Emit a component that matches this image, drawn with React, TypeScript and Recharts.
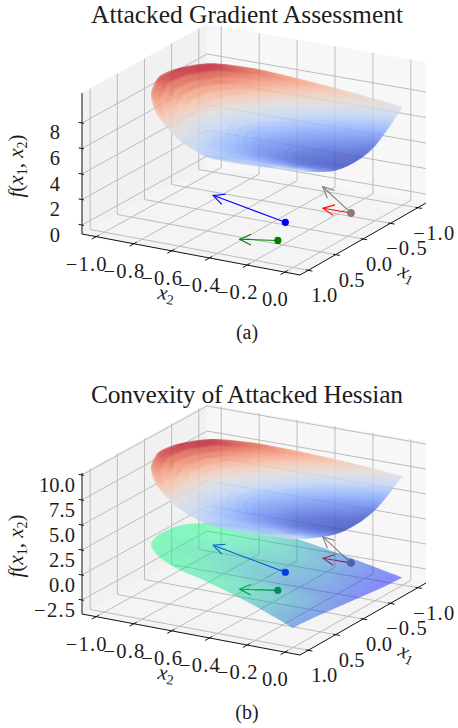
import React from 'react';
import { ScatterChart, Scatter, XAxis, YAxis } from 'recharts';

const x1Ticks = [-1, -0.5, 0, 0.5, 1];
const x2Ticks = [-1, -0.8, -0.6, -0.4, -0.2, 0];
const zTicksA = [0, 2, 4, 6, 8];
const zTicksB = [-2.5, 0, 2.5, 5, 7.5, 10];

// surface samples on the half disk, rows by radius, columns by angle
const radii = [0, 0.25, 0.5, 0.75, 1];
const anglesDeg = [0, 15, 30, 45, 60, 75, 90, 105, 120, 135, 150, 165, 180];

const upperZ = [
  [4.8, 4.8, 4.8, 4.8, 4.8, 4.8, 4.8, 4.8, 4.8, 4.8, 4.8, 4.8, 4.8],
  [5.02, 5.05, 5.0, 4.95, 4.98, 5.02, 5.06, 5.08, 5.08, 5.06, 5.01, 4.97, 4.82],
  [5.55, 5.5, 5.5, 5.45, 5.53, 5.71, 5.88, 5.93, 5.94, 5.82, 5.65, 5.49, 5.16],
  [6.19, 6.05, 5.95, 6.05, 6.43, 6.85, 7.2, 7.3, 7.36, 7.1, 6.72, 6.35, 5.96],
  [6.9, 6.53, 6.27, 6.87, 7.72, 8.45, 9.1, 9.3, 9.36, 8.9, 8.2, 7.55, 7.0],
];

const lowerZ = [
  [-2.55, -2.55, -2.55, -2.55, -2.55, -2.55, -2.55, -2.55, -2.55, -2.55, -2.55, -2.55, -2.55],
  [-2.37, -1.87, -1.63, -1.59, -1.56, -1.56, -1.59, -1.54, -1.58, -1.71, -1.97, -2.37, -2.73],
  [-2.19, -1.19, -0.7, -0.63, -0.57, -0.57, -0.63, -0.53, -0.61, -0.86, -1.4, -2.2, -2.91],
  [-2.04, -0.63, 0.07, 0.17, 0.26, 0.3, 0.3, 0.45, 0.35, -0.05, -0.92, -2.06, -3.06],
  [-1.95, -0.29, 0.53, 0.65, 0.78, 0.8, 0.85, 1.1, 0.98, 0.4, -0.63, -1.97, -3.15],
];

// arrows in the plane z = 0: start and tip as [x1, x2]
const arrowNames = ['red', 'gray', 'blue', 'green'];
const arrowColors = ['#ff0000', '#808080', '#0000ff', '#008000'];
const arrowStarts = [[-0.364, -0.089], [-0.364, -0.089], [0.154, -0.286], [0.63, -0.188]];
const arrowTips = [[-0.357, -0.235], [-0.887, -0.389], [-0.19, -0.767], [0.775, -0.348]];

const X1_MIN = -1.15;
const X1_MAX = 1.15;
const X2_MIN = -1.075;
const X2_MAX = 0.08;
const BOX_H = 141;
const W = 458;
const H = 348;
const FONT = '"Liberation Serif", serif';
const INK = '#1c1c1c';

const coolwarm = [[59, 76, 192], [98, 130, 234], [141, 176, 254], [192, 212, 245], [221, 220, 220], [245, 196, 173], [244, 152, 122], [222, 96, 77], [180, 4, 38]];
const winter = [[0, 0, 255], [0, 255, 128]];

function cmap(stops: number[][], t: number) {
  const v = Math.max(0, Math.min(0.9999, t)) * (stops.length - 1);
  const i = Math.floor(v);
  const c = stops[i].map((s, k) => Math.round(s + (stops[i + 1][k] - s) * (v - i)));
  return `rgb(${c[0]},${c[1]},${c[2]})`;
}

function makeProject(zMin: number, zMax: number) {
  return (x1: number, x2: number, z: number) => {
    const a = (X1_MAX - x1) / (X1_MAX - X1_MIN);
    const b = (x2 - X2_MIN) / (X2_MAX - X2_MIN);
    const nx = 82 + 218 * b;
    const ny = 234 + 41 * b;
    const fx = 207 + 219 * b;
    const fy = 165 + 38 * b;
    return {
      px: nx + (fx - nx) * a,
      py: ny + (fy - ny) * a - ((z - zMin) / (zMax - zMin)) * BOX_H,
    };
  };
}

const noDot = () => <g />;
const fmt = (v: number) => v.toFixed(1).replace('-', '\u2212');

// width of a number label in the reference's wide math digits
const labelWidth = (s: string) => {
  let w = 0;
  for (const ch of s) w += ch === '\u2212' ? 15 : ch === '.' ? 5.5 : 10.2;
  return w;
};

const polygonLine = (fill: string) => ({ points }: any) => (
  <polygon points={points.map((p: any) => `${p.x},${p.y}`).join(' ')} fill={fill} stroke="none" />
);

const segmentsLine = (stroke: string, width: number) => ({ points }: any) => {
  const out = [];
  for (let i = 0; i + 1 < points.length; i += 2) {
    out.push(<line key={i} x1={points[i].x} y1={points[i].y} x2={points[i + 1].x} y2={points[i + 1].y} stroke={stroke} strokeWidth={width} />);
  }
  return <g>{out}</g>;
};

function splineChain(pts: any[]) {
  let d = '';
  for (let i = 0; i < pts.length - 1; i++) {
    const p0 = pts[Math.max(0, i - 1)];
    const p1 = pts[i];
    const p2 = pts[i + 1];
    const p3 = pts[Math.min(pts.length - 1, i + 2)];
    d += ` C${p1.x + (p2.x - p0.x) / 6},${p1.y + (p2.y - p0.y) / 6} ${p2.x - (p3.x - p1.x) / 6},${p2.y - (p3.y - p1.y) / 6} ${p2.x},${p2.y}`;
  }
  return d;
}

const SUBDIV = 6;

const surfaceLine = (id: string, table: number[][], stops: number[][], lo: number, hi: number, opacity: number) => ({ points }: any) => {
  const cols = anglesDeg.length;
  const rows = radii.length;
  const at = (i: number, j: number) => points[i * cols + j];
  const cells = [];
  for (let i = 0; i < rows - 1; i++) {
    for (let j = 0; j < cols - 1; j++) {
      // smooth shading inside one mesh cell
      const blend = (s: number, t: number, a: number, b: number, c: number, d: number) =>
        a * (1 - s) * (1 - t) + b * (1 - s) * t + c * s * t + d * s * (1 - t);
      const pos = (s: number, t: number) => {
        const A = at(i, j);
        const B = at(i, j + 1);
        const C = at(i + 1, j + 1);
        const D = at(i + 1, j);
        return `${blend(s, t, A.x, B.x, C.x, D.x)},${blend(s, t, A.y, B.y, C.y, D.y)}`;
      };
      for (let m = 0; m < SUBDIV; m++) {
        for (let n = 0; n < SUBDIV; n++) {
          const s0 = m / SUBDIV;
          const s1 = (m + 1) / SUBDIV;
          const t0 = n / SUBDIV;
          const t1 = (n + 1) / SUBDIV;
          const z = blend((s0 + s1) / 2, (t0 + t1) / 2, table[i][j], table[i][j + 1], table[i + 1][j + 1], table[i + 1][j]);
          const c = cmap(stops, (z - lo) / (hi - lo));
          cells.push(
            <polygon
              key={`${i}-${j}-${m}-${n}`}
              points={`${pos(s0, t0)} ${pos(s0, t1)} ${pos(s1, t1)} ${pos(s1, t0)}`}
              fill={c}
              stroke={c}
              strokeWidth={2.5}
              strokeLinejoin="round"
            />
          );
        }
      }
    }
  }
  const arc = anglesDeg.map((_, j) => at(rows - 1, j));
  const edge = [arc[cols - 1], at(3, cols - 1), at(2, cols - 1), at(1, cols - 1), at(0, 0), at(1, 0), at(2, 0), at(3, 0), arc[0]];
  const outline = `M${arc[0].x},${arc[0].y}${splineChain(arc)}${splineChain(edge)} Z`;
  return (
    <g>
      <defs>
        <clipPath id={`${id}-clip`}><path d={outline} /></clipPath>
        <filter id={`${id}-blur`} x="-20%" y="-20%" width="140%" height="140%">
          <feGaussianBlur stdDeviation="1.2" />
        </filter>
      </defs>
      <g clipPath={`url(#${id}-clip)`} opacity={opacity}>
        <g filter={`url(#${id}-blur)`}>{cells}</g>
      </g>
    </g>
  );
};

const arrowLine = (color: string) => ({ points }: any) => {
  const [s, t] = points;
  const ang = Math.atan2(s.y - t.y, s.x - t.x);
  const barb = (d: number) => `${t.x + 12.5 * Math.cos(ang + d)},${t.y + 12.5 * Math.sin(ang + d)}`;
  return (
    <g fill="none" stroke={color} strokeWidth={1.1}>
      <line x1={s.x} y1={s.y} x2={t.x} y2={t.y} />
      <polyline points={`${barb(0.44)} ${t.x},${t.y} ${barb(-0.44)}`} />
    </g>
  );
};

const textShape = (dx: number, dy: number, anchor: string, size: number, length?: number) => (p: any) => (
  <text
    x={p.cx + dx}
    y={p.cy + dy}
    textAnchor={anchor}
    fontFamily={FONT}
    fontSize={size}
    fill={INK}
    textLength={length ?? labelWidth(p.payload.text)}
    lengthAdjust="spacing"
  >
    {p.payload.text}
  </text>
);

const plainShape = (size: number) => (p: any) => (
  <text x={p.cx} y={p.cy} textAnchor="middle" fontFamily={FONT} fontSize={size} fill={INK}>
    {p.payload.text}
  </text>
);

const sub = (n: string) => (
  <>
    <tspan fontStyle="italic">x</tspan>
    <tspan fontSize={14} dy={4}>{n}</tspan>
  </>
);

function Marks({ data, line, shape }: any) {
  return <Scatter data={data} line={line} shape={shape ?? noDot} isAnimationActive={false} legendType="none" />;
}

function Panel({ id, title, caption, zTicks, zLim, zLabelRight, top, showLower }: any) {
  const project = makeProject(zLim[0], zLim[1]);
  const [zMin, zMax] = zLim;
  const pane = (c: number[][]) => c.map(([a, b, z]) => project(a, b, z));

  const grid: any[] = [];
  x1Ticks.forEach((v) => {
    grid.push(project(v, X2_MIN, zMin), project(v, X2_MIN, zMax));
    grid.push(project(v, X2_MIN, zMin), project(v, X2_MAX, zMin));
  });
  x2Ticks.forEach((v) => {
    grid.push(project(X1_MIN, v, zMin), project(X1_MIN, v, zMax));
    grid.push(project(X1_MIN, v, zMin), project(X1_MAX, v, zMin));
  });
  zTicks.forEach((v: number) => {
    grid.push(project(X1_MAX, X2_MIN, v), project(X1_MIN, X2_MIN, v));
    grid.push(project(X1_MIN, X2_MIN, v), project(X1_MIN, X2_MAX, v));
  });

  const axes = [
    project(X1_MAX, X2_MIN, zMin), project(X1_MAX, X2_MIN, zMax),
    project(X1_MAX, X2_MIN, zMin), project(X1_MAX, X2_MAX, zMin),
    project(X1_MAX, X2_MAX, zMin), project(X1_MIN, X2_MAX, zMin),
  ];
  const ticks: any[] = [];
  x1Ticks.forEach((v) => ticks.push(project(v, X2_MAX - 0.012, zMin), project(v, X2_MAX + 0.022, zMin)));
  x2Ticks.forEach((v) => ticks.push(project(X1_MAX - 0.05, v, zMin), project(X1_MAX + 0.08, v, zMin)));
  zTicks.forEach((v: number) => ticks.push(project(X1_MAX, X2_MIN - 0.018, v), project(X1_MAX, X2_MIN + 0.01, v)));

  const nodes = (table: number[][]) =>
    radii.flatMap((r, i) =>
      anglesDeg.map((deg, j) => {
        const t = (deg * Math.PI) / 180;
        return project(r * Math.cos(t), -r * Math.sin(t), table[i][j]);
      })
    );

  const x1Labels = x1Ticks.map((v) => ({ ...project(v, X2_MAX, zMin), text: fmt(v) }));
  const x2Labels = x2Ticks.map((v) => ({ ...project(X1_MAX, v, zMin), text: fmt(v) }));
  const zLabels = zTicks.map((v: number) => ({ ...project(X1_MAX, X2_MIN, v), text: zTicks.length === 5 ? String(v) : fmt(v) }));

  return (
    <div style={{ position: 'absolute', left: 0, top, width: W, height: H }}>
      <ScatterChart width={W} height={H} margin={{ top: 0, right: 0, bottom: 0, left: 0 }}>
        <XAxis type="number" dataKey="px" domain={[0, W]} hide />
        <YAxis type="number" dataKey="py" domain={[0, H]} reversed hide />
        <Marks data={pane([[X1_MAX, X2_MIN, zMin], [X1_MIN, X2_MIN, zMin], [X1_MIN, X2_MIN, zMax], [X1_MAX, X2_MIN, zMax]])} line={polygonLine('#f1f1f1')} />
        <Marks data={pane([[X1_MIN, X2_MIN, zMin], [X1_MIN, X2_MAX, zMin], [X1_MIN, X2_MAX, zMax], [X1_MIN, X2_MIN, zMax]])} line={polygonLine('#f7f7f7')} />
        <Marks data={pane([[X1_MAX, X2_MIN, zMin], [X1_MAX, X2_MAX, zMin], [X1_MIN, X2_MAX, zMin], [X1_MIN, X2_MIN, zMin]])} line={polygonLine('#f4f4f4')} />
        <Marks data={grid} line={segmentsLine('#bcbcbc', 1)} />
        <Marks data={axes} line={segmentsLine('#111111', 1)} />
        <Marks data={ticks} line={segmentsLine('#111111', 1)} />

        {arrowNames.map((name, i) => (
          <Marks
            key={name}
            data={[project(arrowStarts[i][0], arrowStarts[i][1], 0), project(arrowTips[i][0], arrowTips[i][1], 0)]}
            line={arrowLine(arrowColors[i])}
            shape={(p: any) => (p.index === 0 ? <circle cx={p.cx} cy={p.cy} r={3.6} fill={arrowColors[i]} /> : <g />)}
          />
        ))}

        {showLower && <Marks data={nodes(lowerZ)} line={surfaceLine(`${id}-low`, lowerZ, winter, -3.15, 0.82, 0.45)} />}
        <Marks data={nodes(upperZ)} line={surfaceLine(`${id}-up`, upperZ, coolwarm, 4.8, 9.36, 0.82)} />

        <Marks data={[{ px: 247, py: 23, text: title }]} shape={textShape(0, 0, 'middle', 25.5, 312)} />
        <Marks data={[{ px: 247, py: 339, text: caption }]} shape={plainShape(20)} />
        <Marks data={x1Labels} shape={textShape(16, 32, 'middle', 20.5)} />
        <Marks data={x2Labels} shape={textShape(-10, 34, 'middle', 20.5)} />
        <Marks data={zLabels} shape={textShape(zLabelRight - 82, 16.5, 'end', 20.5)} />
        <Marks
          data={[{ px: 23, py: 166 }]}
          shape={(p: any) => (
            <text x={p.cx} y={p.cy} transform={`rotate(-90 ${p.cx} ${p.cy})`} textAnchor="middle" fontFamily={FONT} fontSize={21} fill={INK}>
              <tspan fontStyle="italic">f</tspan>
              <tspan>(</tspan>
              {sub('1')}
              <tspan dy={-4}>, </tspan>
              {sub('2')}
              <tspan dy={-4}>)</tspan>
            </text>
          )}
        />
        <Marks
          data={[{ px: 406, py: 275 }]}
          shape={(p: any) => (
            <text x={p.cx} y={p.cy + 4} transform={`rotate(25 ${p.cx} ${p.cy})`} textAnchor="middle" fontFamily={FONT} fontSize={21} fill={INK}>
              {sub('1')}
            </text>
          )}
        />
        <Marks
          data={[{ px: 166, py: 296 }]}
          shape={(p: any) => (
            <text x={p.cx} y={p.cy + 4} transform={`rotate(8 ${p.cx} ${p.cy})`} textAnchor="middle" fontFamily={FONT} fontSize={21} fill={INK}>
              {sub('2')}
            </text>
          )}
        />
      </ScatterChart>
    </div>
  );
}

export default function App() {
  return (
    <div style={{ position: 'absolute', left: 0, top: 0, width: W, height: 728 }}>
      <Panel id="a" title="Attacked Gradient Assessment" caption="(a)" zTicks={zTicksA} zLim={[-0.7, 10.35]} zLabelRight={60} top={0} showLower={false} />
      <Panel id="b" title="Convexity of Attacked Hessian" caption="(b)" zTicks={zTicksB} zLim={[-3.9, 10.2]} zLabelRight={75} top={380} showLower={true} />
    </div>
  );
}
